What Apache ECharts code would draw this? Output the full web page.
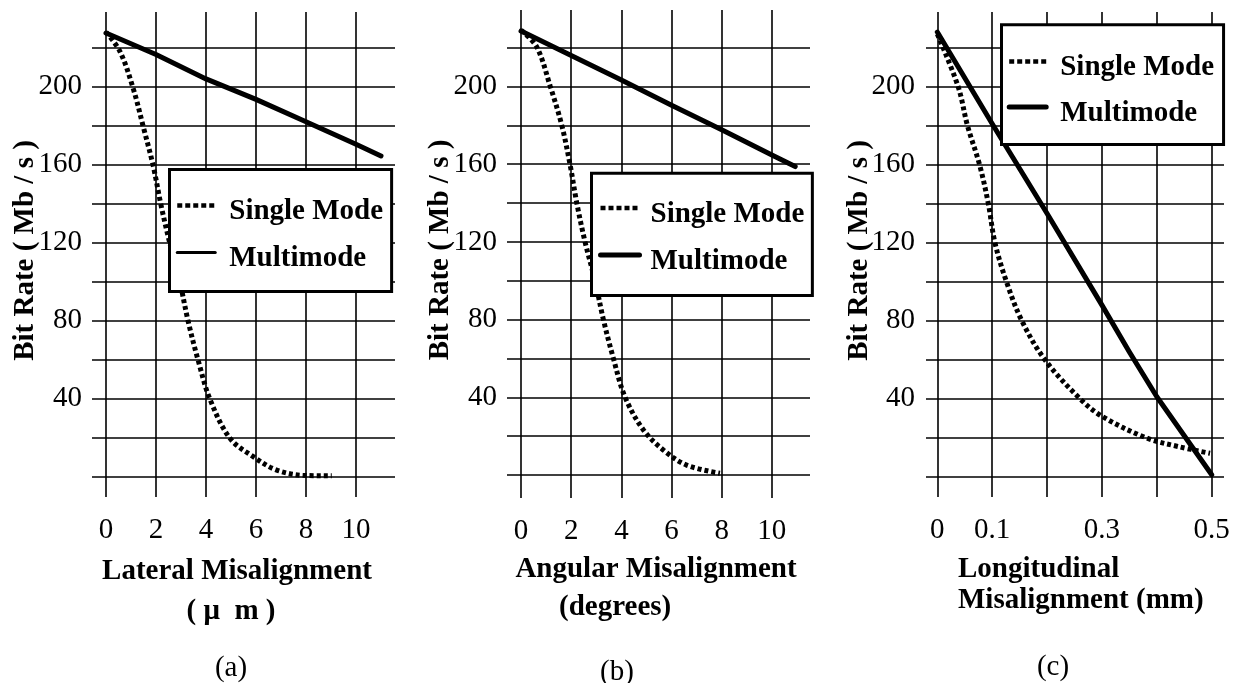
<!DOCTYPE html>
<html>
<head>
<meta charset="utf-8">
<script src="https://cdn.jsdelivr.net/npm/echarts@6/dist/echarts.min.js"></script>
<style>
  html, body { margin: 0; padding: 0; background: #ffffff; }
  #chart { width: 1238px; height: 683px; }
</style>
</head>
<body>
<div id="chart"></div>
<script>
// Bit rate (Mb/s) of single-mode and multimode fibre joints versus misalignment

// (a) lateral misalignment, micrometres
const lateralSingle = [[0, 228], [0.56, 218], [1.09, 199], [1.49, 179.5], [1.89, 159.3], [2.2, 139.3],
  [2.56, 119.3], [2.96, 99.5], [3.29, 79.5], [3.69, 59.5], [4.16, 39.7], [4.96, 19.7], [5.89, 10.3],
  [6.83, 3.4], [8.03, 0.6], [9.03, 0.5]];
const lateralMulti = [[0, 227.5], [2, 216.5], [4, 204], [6, 193.5], [8, 182], [10, 170.5], [11, 164.5]];

// (b) angular misalignment, degrees
const angularSingle = [[0, 229], [0.62, 220.5], [1.16, 200.3], [1.62, 180.2], [1.95, 160.1], [2.22, 140.2],
  [2.55, 120.1], [2.95, 100], [3.28, 80.2], [3.68, 60.1], [4.15, 40], [4.88, 23.2], [5.67, 12.9],
  [6.6, 5.1], [7.93, 0.9]];
const angularMulti = [[0, 228.6], [2, 216], [4, 203.4], [6, 190.4], [8, 177.8], [10, 164.8], [10.93, 158.8]];

// (c) longitudinal misalignment, millimetres
const longSingle = [[0, 227], [0.038, 200], [0.055, 180], [0.077, 160], [0.093, 140], [0.105, 120],
  [0.126, 100], [0.154, 80], [0.196, 60], [0.26, 40], [0.30, 31], [0.38, 20], [0.44, 15.4], [0.497, 12]];
const longMulti = [[0, 228], [0.1, 181], [0.2, 135], [0.3, 88], [0.35, 64], [0.4, 41], [0.45, 21], [0.5, 1]];

// grid lines and tick labels
const gridX = [0, 2, 4, 6, 8, 10];
const gridXLong = [0, 0.1, 0.2, 0.3, 0.4, 0.5];
const gridY = [0, 20, 40, 60, 80, 100, 120, 140, 160, 180, 200, 220];
const ticksX = [0, 2, 4, 6, 8, 10];
const ticksXLong = [0, 0.1, 0.3, 0.5];
const ticksY = [40, 80, 120, 160, 200];

const seriesNames = ['Single Mode', 'Multimode'];
const yTitle = 'Bit Rate ( Mb / s )';

const FONT = 'Liberation Serif';
const INK = '#000000';
const FS = 29;

const panels = [
  { grid: { left: 92, top: 12, width: 303, height: 485 }, x: [-0.56, 11.56], y: [-10.4, 238.3],
    gx: gridX, tx: ticksX, single: lateralSingle, multi: lateralMulti, yLabelMargin: 10,
    legend: { left: 169.5, top: 169.5, padding: [21.5, 8.5, 18.1, 5.5], gap: 11.4, itemWidth: 38, textPad: 9, multiWidth: 3 } },
  { grid: { left: 507, top: 10, width: 303, height: 488 }, x: [-0.56, 11.52], y: [-11.84, 239.4],
    gx: gridX, tx: ticksX, single: angularSingle, multi: angularMulti, yLabelMargin: 10,
    legend: { left: 591.5, top: 173.2, padding: [20.4, 8, 19.5, 6.5], gap: 11.4, itemWidth: 39, textPad: 6, multiWidth: 5 } },
  { grid: { left: 926, top: 12, width: 298, height: 485 }, x: [-0.0206, 0.5224], y: [-10.4, 238.3],
    gx: gridXLong, tx: ticksXLong, single: longSingle, multi: longMulti, yLabelMargin: 11,
    legend: { left: 1001.5, top: 24.8, padding: [22.2, 9.5, 16.5, 5.2], gap: 10, itemWidth: 37, textPad: 9, multiWidth: 5 } }
];

const grids = [], xAxes = [], yAxes = [], series = [], legends = [];

panels.forEach((p, i) => {
  grids.push(p.grid);
  xAxes.push({
    type: 'value', gridIndex: i, min: p.x[0], max: p.x[1],
    axisLine: { show: false, onZero: false }, axisTick: { show: false }, splitLine: { show: false },
    axisLabel: { customValues: p.tx, margin: 19, fontFamily: FONT, fontSize: FS, color: INK }
  });
  yAxes.push({
    type: 'value', gridIndex: i, min: p.y[0], max: p.y[1],
    axisLine: { show: false, onZero: false }, axisTick: { show: false }, splitLine: { show: false },
    axisLabel: { customValues: ticksY, margin: p.yLabelMargin, fontFamily: FONT, fontSize: FS, color: INK,
      padding: [6, 0, 0, 0] },
    name: yTitle, nameLocation: 'middle', nameGap: 52, nameMoveOverlap: false,
    nameTextStyle: { fontFamily: FONT, fontSize: FS, fontWeight: 'bold', color: INK, padding: [0, 0, 0, 8] }
  });
  // ruled grid
  series.push({
    type: 'line', xAxisIndex: i, yAxisIndex: i, data: [], silent: true, z: 1,
    markLine: {
      silent: true, animation: false, symbol: ['none', 'none'], label: { show: false },
      lineStyle: { color: INK, width: 1.6, type: 'solid' },
      emphasis: { disabled: true },
      data: p.gx.map(v => ({ xAxis: v })).concat(gridY.map(v => ({ yAxis: v })))
    }
  });
  series.push({
    name: seriesNames[0], type: 'line', xAxisIndex: i, yAxisIndex: i, data: p.single,
    symbol: 'none', smooth: 0.35, z: 3, color: INK,
    lineStyle: { color: INK, width: 5, type: [4, 3], cap: 'butt' }
  });
  series.push({
    name: seriesNames[1], type: 'line', xAxisIndex: i, yAxisIndex: i, data: p.multi,
    symbol: 'none', smooth: false, z: 3, color: INK,
    lineStyle: { color: INK, width: 5, type: 'solid', cap: 'round', join: 'round' }
  });
  const L = p.legend;
  legends.push({
    left: L.left, top: L.top, orient: 'vertical', padding: L.padding,
    itemWidth: L.itemWidth, itemHeight: 6, itemGap: L.gap, selectedMode: false, z: 10,
    backgroundColor: '#ffffff', borderColor: INK, borderWidth: 3,
    itemStyle: { color: 'rgba(0,0,0,0)', borderWidth: 0, opacity: 0 },
    // entry text sits a little below its line sample
    formatter: '{s|\u200b}{t|{name}}',
    textStyle: {
      fontFamily: FONT, fontSize: FS, fontWeight: 'bold', color: INK, padding: [0, 0, 0, L.textPad],
      rich: {
        s: { fontFamily: FONT, fontSize: FS, lineHeight: 42 },
        t: { fontFamily: FONT, fontSize: FS, fontWeight: 'bold', color: INK, lineHeight: 30, verticalAlign: 'bottom' }
      }
    },
    data: [
      { name: seriesNames[0], lineStyle: { width: 4.5, type: [5, 3] } },
      { name: seriesNames[1], lineStyle: { width: L.multiWidth, type: 'solid' } }
    ]
  });
});

const boldText = (text, x, y, align) => ({
  type: 'text', x: x, y: y,
  style: { text: text, fontFamily: FONT, fontSize: FS, fontWeight: 'bold', fill: INK,
    align: align || 'center', verticalAlign: 'middle' }
});
const plainText = (text, x, y) => ({
  type: 'text', x: x, y: y,
  style: { text: text, fontFamily: FONT, fontSize: FS, fill: INK, align: 'center', verticalAlign: 'middle' }
});

const option = {
  animation: false,
  backgroundColor: '#ffffff',
  textStyle: { fontFamily: FONT },
  grid: grids,
  xAxis: xAxes,
  yAxis: yAxes,
  legend: legends,
  series: series,
  graphic: [
    boldText('Lateral Misalignment', 237, 572),
    boldText('( \u03bc  m )', 231, 612),
    plainText('(a)', 231, 668),
    boldText('Angular Misalignment', 656, 570),
    boldText('(degrees)', 559, 608, 'left'),
    plainText('(b)', 617, 672),
    boldText('Longitudinal', 958, 570, 'left'),
    boldText('Misalignment (mm)', 958, 601, 'left'),
    plainText('(c)', 1053, 667)
  ]
};

const chart = echarts.init(document.getElementById('chart'), null, { renderer: 'canvas' });
chart.setOption(option);
</script>
</body>
</html>
